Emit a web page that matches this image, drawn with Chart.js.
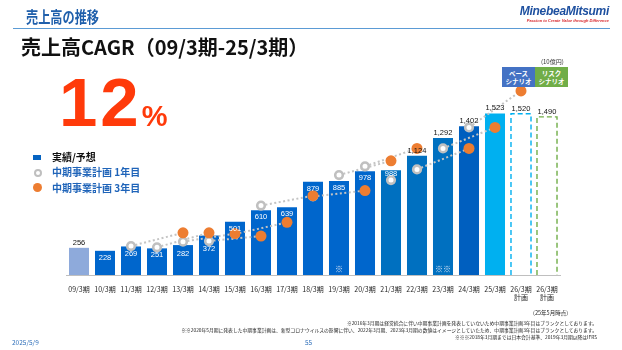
<!DOCTYPE html>
<html>
<head>
<meta charset="utf-8">
<script src="https://cdn.jsdelivr.net/npm/chart.js@4.4.1/dist/chart.umd.min.js"></script>
<style>
  body { margin: 0; background: #fff; font-family: "Noto Sans CJK JP", "Liberation Sans", sans-serif; }
  #page { position: relative; width: 622px; height: 350px; overflow: hidden; }
  #chart { position: absolute; left: 0; top: 0; }
  .abs { position: absolute; white-space: nowrap; }
  .title { left: 26px; top: 4px; font-size: 16px; font-weight: bold; color: #1f5fab; transform: scaleX(0.76); transform-origin: left center; }
  .rule { left: 13px; top: 28px; width: 597px; height: 1px; background: #5b9bd5; }
  .logo { right: 13px; top: 4px; font-family: "Liberation Sans", sans-serif; font-weight: bold; font-style: italic; font-size: 12px; color: #1d4f9f; letter-spacing: -0.3px; }
  .tagline { right: 13px; top: 18px; font-family: "Liberation Sans", sans-serif; font-weight: bold; font-style: italic; font-size: 4px; color: #d7262c; }
  .subtitle { left: 21px; top: 32px; font-size: 20px; font-weight: bold; color: #111; }
  .big { left: 59px; top: 63px; font-family: "Liberation Sans", sans-serif; font-weight: bold; color: #ff3a0a; }
  .big .n { font-size: 69px; letter-spacing: 3px; }
  .big .p { font-size: 29px; }
  .leg { left: 52px; font-size: 10px; font-weight: bold; line-height: 12px; }
  .unit { left: 541px; top: 57px; font-size: 6px; color: #333; }
  .box { top: 67px; height: 20px; width: 33px; color: #fff; font-size: 6.5px; font-weight: bold; text-align: center; line-height: 8px; padding-top: 2px; box-sizing: border-box; }
  .foot { font-size: 4.8px; color: #222; right: 25px; text-align: right; line-height: 7px; }
  .date { left: 12px; top: 337px; font-size: 6.5px; color: #2f6fba; }
  .pno { left: 305px; top: 337px; font-size: 6.5px; color: #2f6fba; }
</style>
</head>
<body>
<div id="page">
  <canvas id="chart" width="622" height="350"></canvas>

  <div class="abs title">売上高の推移</div>
  <div class="abs rule"></div>
  <div class="abs logo">MinebeaMitsumi</div>
  <div class="abs tagline">Passion to Create Value through Difference</div>
  <div class="abs subtitle">売上高CAGR（09/3期-25/3期）</div>
  <div class="abs big"><span class="n">12</span><span class="p">%</span></div>

  <!-- legend -->
  <div class="abs" style="left:33px;top:155px;width:8px;height:5px;background:#0563c1"></div>
  <div class="abs leg" style="top:151px;color:#111">実績/予想</div>
  <div class="abs" style="left:34px;top:169px;width:4px;height:4px;border:2px solid #bfbfbf;border-radius:50%"></div>
  <div class="abs leg" style="top:166px;color:#1f64b9">中期事業計画 1年目</div>
  <div class="abs" style="left:33px;top:183px;width:9px;height:9px;background:#ed7d31;border-radius:50%"></div>
  <div class="abs leg" style="top:182px;color:#1f64b9">中期事業計画 3年目</div>

  <div class="abs unit">(10億円)</div>
  <div class="abs box" style="left:502px;background:#4472c4">ベース<br>シナリオ</div>
  <div class="abs box" style="left:535px;background:#70ad47">リスク<br>シナリオ</div>

  <div class="abs foot" style="top:310px;right:54px;font-size:5.5px">(25年5月時点)</div>
  <div class="abs foot" style="top:319px">※2016年3月期は経営統合に伴い中期事業計画を発表していないため中期事業計画3年目はブランクとしております。<br>※※2020年5月期に発表した中期事業計画は、新型コロナウイルスの影響に伴い、2022年3月期、2023年3月期の数値はイメージとしていたため、中期事業計画3年目はブランクとしております。<br>※※※2018年3月期までは日本会計基準、2019年3月期以降はIFRS</div>
  <div class="abs date">2025/5/9</div>
  <div class="abs pno">55</div>
</div>

<script>
// categories (fiscal years)
const labels = ['09/3期','10/3期','11/3期','12/3期','13/3期','14/3期','15/3期','16/3期','17/3期','18/3期',
  '19/3期','20/3期','21/3期','22/3期','23/3期','24/3期','25/3期',['26/3期','計画'],['26/3期','計画']];

// net sales, actual / forecast / plan (¥ billion)
const sales = [256, 228, 269, 251, 282, 372, 501, 610, 639, 879, 885, 978, 988, 1124, 1292, 1402, 1523, 1520, 1490];

// mid-term plan targets
const planYear1 = [null, null, 273, 261, 314, 320, 386, 654, null, 740, 942, 1024, 895, 995, 1193, 1391, null, null, null];
const planYear3 = [null, null, null, null, 398, 398, 390, 367, 496, 747, null, 796, 1076, 1193, null, 1193, 1391, 1735, null];

// notes marks under bars
const marks = ['', '', '', '', '', '', '', '', '', '', '※', '', '', '', '※※', '', '', '', ''];

const barColors = ['#8eaadb', '#0066cc', '#0066cc', '#0066cc', '#0066cc', '#0066cc', '#0066cc', '#0066cc', '#0066cc', '#0066cc',
  '#0066cc', '#0066cc', '#0070c0', '#0070c0', '#0070c0', '#005fbf', '#00b0f0', 'rgba(0,0,0,0)', 'rgba(0,0,0,0)'];
const dashColors = { 17: '#00b0f0', 18: '#70ad47' };
// labels moved down/up so the plan markers don't hide them
const labelShift = { 4: 9, 5: 13, 12: 4 };

// one dotted line per plan: 1st year -> 3rd year
const planLines = [];
planYear1.forEach((v, i) => {
  if (v == null || planYear3[i + 2] == null) return;
  planLines.push({
    type: 'line',
    data: labels.map((_, j) => j === i ? v : (j === i + 2 ? planYear3[i + 2] : null)),
    spanGaps: true,
    borderColor: '#c4c4c4',
    borderWidth: 2,
    borderDash: [2, 2.5],
    pointRadius: 0,
    order: 2,
  });
});

const barExtras = {
  id: 'barExtras',
  afterDatasetsDraw(chart) {
    const { ctx } = chart;
    const meta = chart.getDatasetMeta(0);
    ctx.save();
    meta.data.forEach((bar, i) => {
      const { x, y, base, width } = bar.getProps(['x', 'y', 'base', 'width'], true);
      // dashed outline for plan bars
      if (dashColors[i]) {
        ctx.strokeStyle = dashColors[i];
        ctx.lineWidth = 1.4;
        ctx.setLineDash([5, 3]);
        ctx.beginPath();
        ctx.moveTo(x - width / 2, base);
        ctx.lineTo(x - width / 2, y);
        ctx.lineTo(x + width / 2, y);
        ctx.lineTo(x + width / 2, base);
        ctx.stroke();
        ctx.setLineDash([]);
      }
      // value labels
      const v = sales[i];
      const inside = i > 0 && v < 1000;
      ctx.font = '7.5px "Liberation Sans", sans-serif';
      ctx.textAlign = 'center';
      ctx.textBaseline = 'middle';
      ctx.fillStyle = inside ? '#ffffff' : '#111111';
      const dy = inside ? (labelShift[i] || 7) : -5;
      ctx.fillText(v.toLocaleString('en-US'), x, y + dy);
      // note marks
      if (marks[i]) {
        ctx.font = '8px "Noto Sans CJK JP", sans-serif';
        ctx.fillStyle = '#dbe6f4';
        ctx.fillText(marks[i], x, base - 6);
      }
    });
    ctx.restore();
  }
};

new Chart(document.getElementById('chart'), {
  data: {
    labels,
    datasets: [
      {
        type: 'bar',
        data: sales,
        backgroundColor: barColors,
        borderWidth: 0,
        categoryPercentage: 1,
        barPercentage: 0.77,
        order: 3,
      },
      ...planLines,
      {
        type: 'line',
        data: planYear1,
        showLine: false,
        pointRadius: 3.8,
        pointBackgroundColor: '#ffffff',
        pointBorderColor: '#c0c0c0',
        pointBorderWidth: 2.6,
        order: 1,
      },
      {
        type: 'line',
        data: planYear3,
        showLine: false,
        pointRadius: 5.5,
        pointBackgroundColor: '#ed7d31',
        pointBorderWidth: 0,
        order: 0,
      },
    ]
  },
  options: {
    responsive: false,
    animation: false,
    layout: { padding: { left: 66, right: 62, top: 84, bottom: 45 } },
    plugins: { legend: { display: false }, tooltip: { enabled: false } },
    scales: {
      x: {
        grid: { display: false },
        border: { color: '#bfbfbf', width: 1 },
        ticks: { color: '#262626', font: { size: 7, family: '"Noto Sans CJK JP", sans-serif' }, padding: 2, maxRotation: 0, autoSkip: false },
        afterFit(scale) { scale.height = 30; },
      },
      y: { display: false, min: 0, max: 1800 },
    }
  },
  plugins: [barExtras]
});
</script>
</body>
</html>
